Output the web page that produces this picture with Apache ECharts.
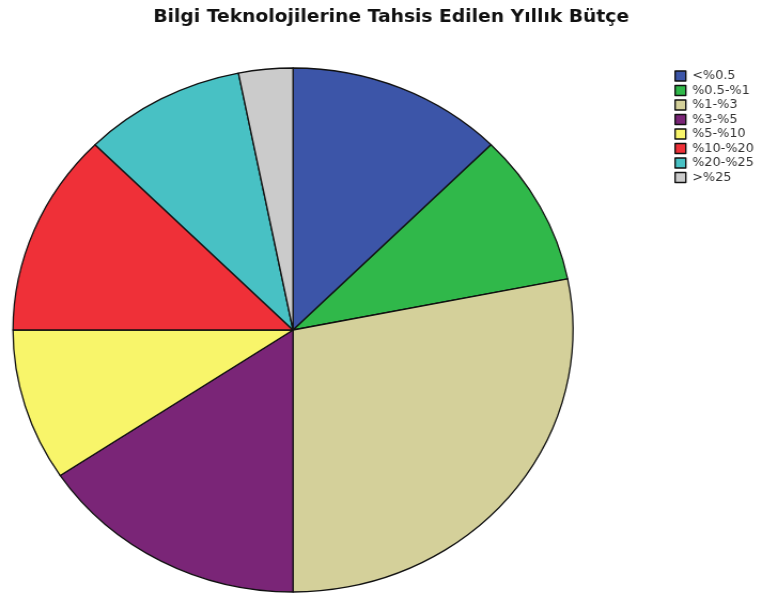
<!DOCTYPE html>
<html>
<head>
<meta charset="utf-8">
<script src="https://cdn.jsdelivr.net/npm/echarts@6/dist/echarts.min.js"></script>
<style>
  html, body { margin: 0; padding: 0; background: #fff; }
  #wrap { position: relative; width: 766px; height: 595px; overflow: hidden; }
  /* the chart is laid out a little narrower and widened to fill the page */
  #chart { position: absolute; left: 0; top: 0; width: 717px; height: 595px;
           transform: scaleX(1.0687); transform-origin: 0 0; }
</style>
</head>
<body>
<div id="wrap">
  <div id="chart"></div>
</div>
<script>
const titleText = 'Bilgi Teknolojilerine Tahsis Edilen Yıllık Bütçe';
const categories = ['<%0.5', '%0.5-%1', '%1-%3', '%3-%5', '%5-%10', '%10-%20', '%20-%25', '>%25'];
const counts = [4, 3, 9, 5, 3, 4, 3, 1];
const colors = ['#3c55a8', '#30b84a', '#d4d09a', '#7a2577', '#f8f56a', '#ef3038', '#48c1c4', '#cbcbcb'];

const sliceData = categories.map((name, i) => ({ name, value: counts[i] }));

const chart = echarts.init(document.getElementById('chart'), null, { renderer: 'canvas' });
chart.setOption({
  animation: false,
  color: colors,
  title: {
    text: titleText,
    left: 138.5,
    top: 3,
    textStyle: { fontFamily: 'DejaVu Sans', fontWeight: 'bold', fontSize: 17.5, color: '#111' }
  },
  legend: {
    orient: 'vertical',
    left: 631,
    top: 70,
    padding: 0,
    itemWidth: 10,
    itemHeight: 10,
    itemGap: 2.5,
    icon: 'rect',
    itemStyle: { borderColor: '#111', borderWidth: 1.4 },
    textStyle: { fontFamily: 'DejaVu Sans', fontSize: 12, color: '#333', padding: [0, 0, 0, 1] },
    data: categories
  },
  series: [{
    type: 'pie',
    center: [274.2, 330],
    radius: [0, 262],
    startAngle: 90,
    clockwise: true,
    label: { show: false },
    labelLine: { show: false },
    itemStyle: { borderColor: '#111', borderWidth: 1.3 },
    emphasis: { disabled: true },
    data: sliceData
  }]
});
</script>
</body>
</html>
